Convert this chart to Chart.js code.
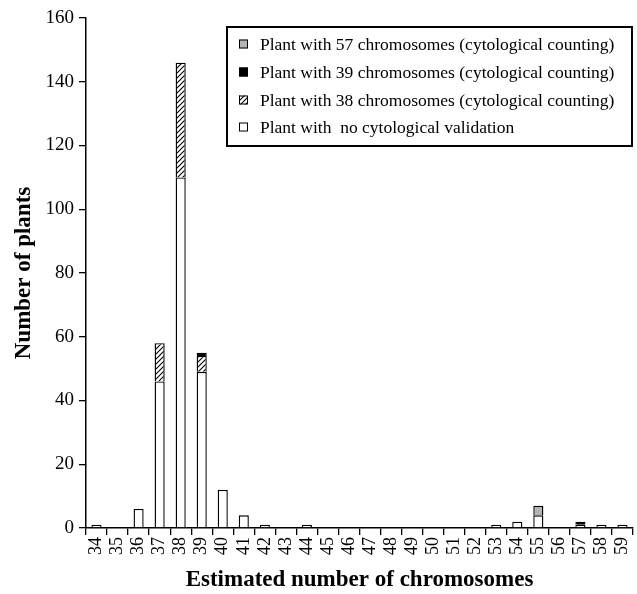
<!DOCTYPE html>
<html><head><meta charset="utf-8">
<style>html,body{margin:0;padding:0;background:#fff;}#wrap{width:637px;height:594px;}</style>
<script src="https://cdn.jsdelivr.net/npm/chart.js@4/dist/chart.umd.min.js"></script>
</head><body><div id="wrap"><canvas id="c" width="637" height="594"></canvas></div>
<script>
const categories = ['34','35','36','37','38','39','40','41','42','43','44','45','46','47','48','49','50','51','52','53','54','55','56','57','58','59'];
// counts per estimated chromosome number
const noValidation = [1,null,6,46,110,49,12,4,1,null,1,null,null,null,null,null,null,null,null,1,2,4,null,1,1,1];
const chr38 = [null,null,null,12,36,5,null,null,null,null,null,null,null,null,null,null,null,null,null,null,null,null,null,null,null,null];
const chr39 = [null,null,null,null,null,1,null,null,null,null,null,null,null,null,null,null,null,null,null,null,null,null,null,1,null,null];
const chr57 = [null,null,null,null,null,null,null,null,null,null,null,null,null,null,null,null,null,null,null,null,null,3,null,null,null,null];
const yTicks = [0,20,40,60,80,100,120,140,160];
const seriesLabels = [
  'Plant with 57 chromosomes (cytological counting)',
  'Plant with 39 chromosomes (cytological counting)',
  'Plant with 38 chromosomes (cytological counting)',
  'Plant with  no cytological validation'
];

const canvas = document.getElementById('c');
const ctx0 = canvas.getContext('2d');
function makeHatch(){
  const s = 5;
  const c = document.createElement('canvas');
  c.width = s; c.height = s;
  const x = c.getContext('2d');
  x.fillStyle = '#fff'; x.fillRect(0,0,s,s);
  x.strokeStyle = '#000'; x.lineWidth = 1.1;
  x.beginPath();
  x.moveTo(0,s); x.lineTo(s,0);
  x.moveTo(-1,1); x.lineTo(1,-1);
  x.moveTo(s-1,s+1); x.lineTo(s+1,s-1);
  x.stroke();
  return ctx0.createPattern(c,'repeat');
}
const hatch = makeHatch();
const FONT = "'Liberation Serif', 'Times New Roman', serif";

const legendPlugin = {
  id: 'boxLegend',
  afterDraw(chart){
    const ctx = chart.ctx;
    const ca = chart.chartArea;
    const w = 405, h = 119;
    const right = ca.right - 1, top = ca.top + 9;
    const left = right - w;
    ctx.save();
    ctx.fillStyle = '#fff';
    ctx.fillRect(left, top, w, h);
    ctx.lineWidth = 2;
    ctx.strokeStyle = '#000';
    ctx.strokeRect(left, top, w, h);
    const fills = ['#b4b4b4', '#000', hatch, '#fff'];
    const rows = [17, 45, 73, 100];
    ctx.font = '17.5px ' + FONT;
    ctx.textBaseline = 'middle';
    ctx.textAlign = 'left';
    for (let i = 0; i < 4; i++) {
      const cy = top + rows[i];
      ctx.fillStyle = fills[i];
      ctx.fillRect(left + 12, cy - 4.5, 9, 9);
      ctx.lineWidth = 1;
      ctx.strokeStyle = '#000';
      ctx.strokeRect(left + 12.5, cy - 4, 8, 8);
      ctx.fillStyle = '#000';
      ctx.fillText(seriesLabels[i], left + 33, cy + 1);
    }
    ctx.restore();
  }
};

const common = { borderColor: '#000', borderWidth: 1.4, barPercentage: 0.48, categoryPercentage: 1, borderSkipped: 'start' };
new Chart(canvas, {
  type: 'bar',
  data: {
    labels: categories,
    datasets: [
      Object.assign({ label: seriesLabels[3], data: noValidation, backgroundColor: '#fff' }, common),
      Object.assign({ label: seriesLabels[2], data: chr38, backgroundColor: hatch }, common),
      Object.assign({ label: seriesLabels[1], data: chr39, backgroundColor: '#000' }, common),
      Object.assign({ label: seriesLabels[0], data: chr57, backgroundColor: '#b4b4b4' }, common)
    ]
  },
  options: {
    responsive: false,
    animation: false,
    layout: { padding: { left: 0, right: 4, top: 18, bottom: 0 } },
    plugins: { legend: { display: false }, tooltip: { enabled: false } },
    scales: {
      x: {
        stacked: true,
        grid: { display: true, drawOnChartArea: false, drawTicks: true, tickLength: 7, color: '#000', lineWidth: 1.3, offset: true },
        border: { display: true, color: '#000', width: 1.5 },
        ticks: { color: '#000', font: { family: FONT, size: 18 }, minRotation: 90, maxRotation: 90, padding: 2, autoSkip: false },
        title: { display: true, text: 'Estimated number of chromosomes', color: '#000', font: { family: FONT, size: 23, weight: 'bold' }, padding: { top: 0, bottom: 0 } },
        afterFit(scale){ scale.height = 66; scale.paddingLeft = 0; scale.paddingRight = 0; }
      },
      y: {
        stacked: true,
        min: 0, max: 160,
        afterBuildTicks(scale){ scale.ticks = yTicks.map(v => ({ value: v })); },
        grid: { display: true, drawOnChartArea: false, drawTicks: true, tickLength: 7, color: '#000', lineWidth: 1.3 },
        border: { display: true, color: '#000', width: 1.5 },
        ticks: { color: '#000', font: { family: FONT, size: 19 }, padding: 5 },
        title: { display: true, text: 'Number of plants', color: '#000', font: { family: FONT, size: 23, weight: 'bold' }, padding: { top: 10, bottom: 0 } },
        afterFit(scale){ scale.width = 86; }
      }
    }
  },
  plugins: [legendPlugin]
});
</script>
</body></html>
